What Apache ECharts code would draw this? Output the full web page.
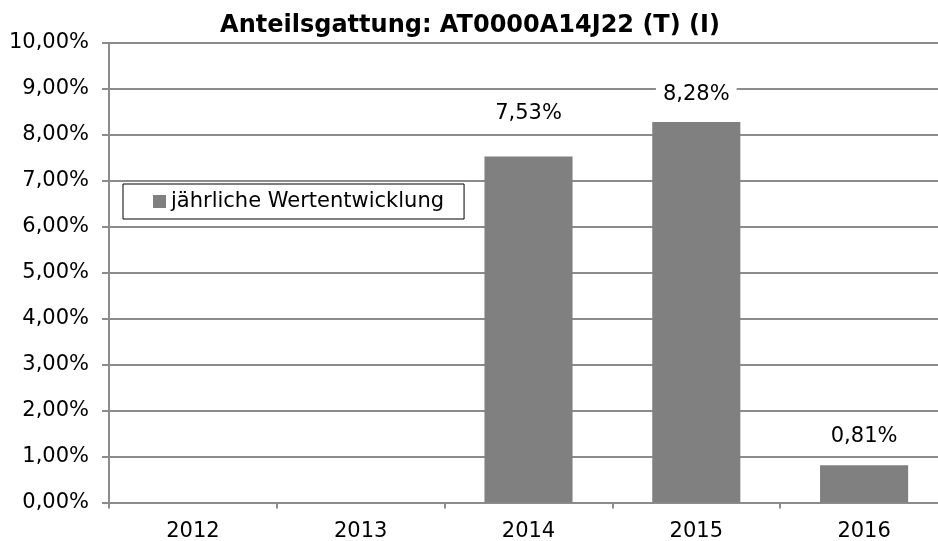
<!DOCTYPE html>
<html><head><meta charset="utf-8">
<script src="https://cdn.jsdelivr.net/npm/echarts@6/dist/echarts.min.js"></script>
<style>html,body{margin:0;padding:0;background:#fff;overflow:hidden}#c{width:960px;height:541px}</style>
</head><body><div id="c"></div>
<script>
var titleText = 'Anteilsgattung: AT0000A14J22 (T) (I)';
var seriesName = 'jährliche Wertentwicklung';
var categories = ['2012', '2013', '2014', '2015', '2016'];
var values = [null, null, 7.53, 8.28, 0.81];
var yTicks = [0, 1, 2, 3, 4, 5, 6, 7, 8, 9, 10];

var FONT = 'DejaVu Sans';
var FS = 21;
var labelDist = [0, 0, 32, 17, 18];
var AX = '#8c8c8c';
function fmt(v) { return v.toFixed(2).replace('.', ',') + '%'; }

var chart = echarts.init(document.getElementById('c'), null, {renderer: 'canvas'});
chart.setOption({
  animation: false,
  backgroundColor: '#fff',
  title: {
    text: titleText, left: 465, top: 9, textAlign: 'center',
    textStyle: {fontFamily: FONT, fontWeight: 'bold', fontSize: 24, color: '#000'}
  },
  legend: {
    data: [seriesName], left: 123, top: 184,
    borderColor: '#000', borderWidth: 1, backgroundColor: '#fff',
    padding: [7, 20, 7, 30], itemWidth: 13, itemHeight: 13, icon: 'rect',
    textStyle: {fontFamily: FONT, fontSize: FS, color: '#000'}
  },
  grid: {left: 109, top: 43, width: 839, height: 459.5, containLabel: false, outerBoundsMode: 'none'},
  xAxis: {
    type: 'category', data: categories, boundaryGap: true,
    axisLine: {lineStyle: {color: AX, width: 2}},
    axisTick: {show: true, length: 6, lineStyle: {color: AX, width: 2}},
    axisLabel: {fontFamily: FONT, fontSize: FS, color: '#000', margin: 19}
  },
  yAxis: {
    type: 'value', min: yTicks[0], max: yTicks[yTicks.length - 1], interval: 1,
    axisLine: {show: true, lineStyle: {color: AX, width: 2}},
    axisTick: {show: true, length: 7, lineStyle: {color: AX, width: 2}},
    splitLine: {lineStyle: {color: AX, width: 2}},
    axisLabel: {fontFamily: FONT, fontSize: FS, color: '#000', margin: 20, formatter: function (v) { return fmt(v); }}
  },
  series: [{
    name: seriesName, type: 'bar', barWidth: '52.5%',
    itemStyle: {color: '#808080'},
    data: values.map(function (v, i) {
      return {
        value: v,
        label: {
          show: v != null, position: 'top', distance: labelDist[i],
          fontFamily: FONT, fontSize: FS, color: '#000',
          backgroundColor: '#fff', padding: [0, 7],
          formatter: function (p) { return fmt(p.value); }
        }
      };
    })
  }]
});
</script></body></html>
